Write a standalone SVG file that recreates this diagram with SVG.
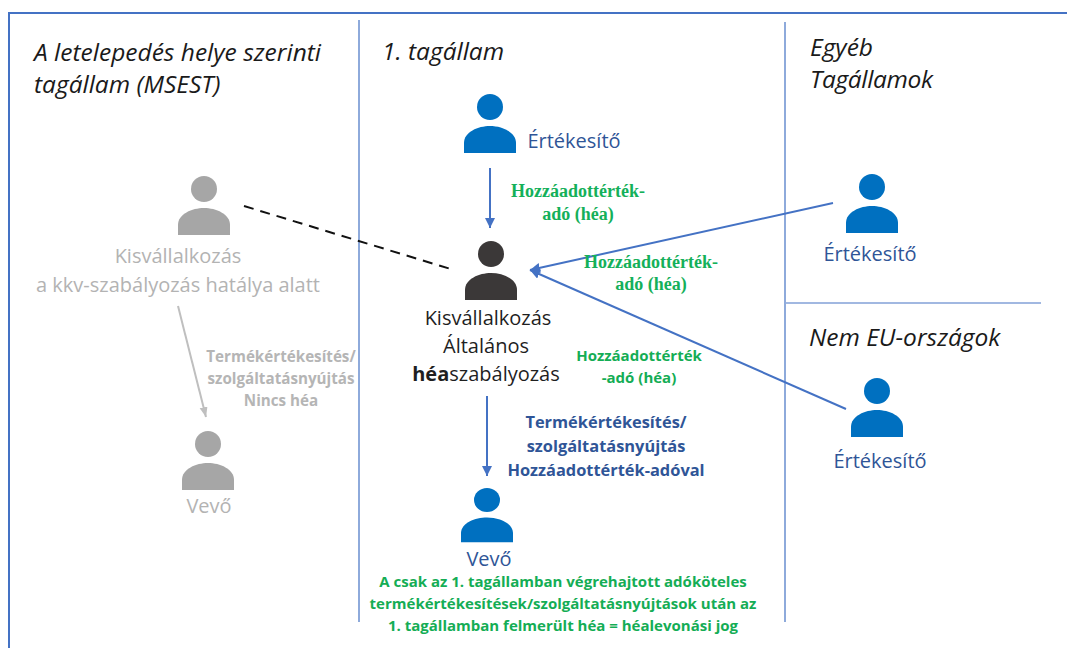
<svg xmlns="http://www.w3.org/2000/svg" width="1067" height="648" viewBox="0 0 1067 648">
<style>
text{font-family:"Open Sans","Noto Sans","Liberation Sans",sans-serif;text-anchor:middle}
.h{font-size:24.5px;font-style:italic;fill:#1a1a1a;text-anchor:start}
.l{font-size:20px}
.blue{fill:#2f5597}.grey{fill:#b3b3b3}.dark{fill:#1f1f1f}
.g{font-family:"Liberation Serif",serif;font-weight:bold;font-size:18px;fill:#14b05a}
.gs{font-size:15px;font-weight:bold;fill:#14ad55}
.bb{font-size:16.4px;font-weight:bold;fill:#2f5597}
.gb{font-size:15.2px;font-weight:bold;fill:#b5b5b5}
.frame{stroke:#4472c4;fill:none}
.c{stroke:#4472c4;stroke-width:2;fill:none;marker-end:url(#a)}
</style>
<defs>
<marker id="a" markerUnits="userSpaceOnUse" markerWidth="12" markerHeight="12" refX="10" refY="5" orient="auto"><path d="M0,0L10,5L0,10Z" fill="#4472c4"/></marker>
<marker id="ag" markerUnits="userSpaceOnUse" markerWidth="12" markerHeight="12" refX="10" refY="4" orient="auto"><path d="M0,0L10,4L0,8Z" fill="#bfbfbf"/></marker>
<g id="p"><circle r="13"/><path d="M-26,46V36C-26,25-12,19 0,19C12,19 26,25 26,36V46Z"/></g>
</defs>
<rect width="1067" height="648" fill="#fff"/>
<g id="frame">
<path class="frame" stroke-width="2" d="M9,648V13H1067"/>
<path class="frame" stroke-width="1.2" d="M359,20V622M785,22V622M786,303H1041"/>
</g>
<g id="connectors">
<path d="M244,206L454,270" stroke="#111" stroke-width="2" stroke-dasharray="10 7" fill="none"/>
<path class="c" d="M490,168V228"/>
<path class="c" d="M833,203L530,270"/>
<path class="c" d="M846,409L530,270"/>
<path class="c" d="M487,396V476"/>
<path d="M178,306L206,417" stroke="#bfbfbf" stroke-width="2" fill="none" marker-end="url(#ag)"/>
</g>
<g id="col-msest"><text class="h" x="34" y="61">A letelepedés helye szerinti</text><text class="h" x="34" y="93">tagállam (MSEST)</text></g>
<g id="col-1"><text class="h" x="382" y="60">1. tagállam</text></g>
<g id="col-other"><text class="h" x="810" y="56">Egyéb</text><text class="h" x="810" y="88" textLength="123">Tagállamok</text></g>
<g id="col-noneu"><text class="h" x="809" y="346">Nem EU-országok</text></g>
<g id="n-seller1"><use href="#p" x="490" y="107" fill="#0070c0"/><text class="l blue" x="574" y="148">Értékesítő</text></g>
<g id="n-small-grey"><use href="#p" x="204" y="189" fill="#a6a6a6"/><text class="l grey" x="178" y="263">Kisvállalkozás</text><text class="l grey" x="178" y="292">a kkv-szabályozás hatálya alatt</text></g>
<g id="n-small"><use href="#p" x="491" y="254" fill="#3b3838"/><text class="l dark" x="488" y="325">Kisvállalkozás</text><text class="l dark" x="486" y="353">Általános</text><text class="l dark" x="486" y="381"><tspan font-weight="bold">héa</tspan>szabályozás</text></g>
<g id="n-seller2"><use href="#p" x="872" y="187" fill="#0070c0"/><text class="l blue" x="870" y="261">Értékesítő</text></g>
<g id="n-seller3"><use href="#p" x="877" y="391" fill="#0070c0"/><text class="l blue" x="880" y="468">Értékesítő</text></g>
<g id="n-buyer-grey"><use href="#p" x="208" y="444" fill="#a6a6a6"/><text class="l grey" x="209" y="513">Vevő</text></g>
<g id="n-buyer"><use href="#p" transform="translate(487,500) scale(1,.92)" fill="#0070c0"/><text class="l blue" x="489" y="566">Vevő</text></g>
<g id="labels">
<text class="g" x="578" y="197">Hozzáadottérték-</text><text class="g" x="578" y="220">adó (héa)</text>
<text class="g" x="651" y="268">Hozzáadottérték-</text><text class="g" x="651" y="290">adó (héa)</text>
<text class="gs" x="639" y="361">Hozzáadottérték</text><text class="gs" x="639" y="383">-adó (héa)</text>
<text class="bb" x="606" y="428">Termékértékesítés/</text><text class="bb" x="606" y="452">szolgáltatásnyújtás</text><text class="bb" x="606" y="476">Hozzáadottérték-adóval</text>
<text class="gb" x="281" y="362">Termékértékesítés/</text><text class="gb" x="281" y="384">szolgáltatásnyújtás</text><text class="gb" x="281" y="406">Nincs héa</text>
<text class="gs" x="563" y="587">A csak az 1. tagállamban végrehajtott adóköteles</text><text class="gs" x="563" y="609">termékértékesítések/szolgáltatásnyújtások után az</text><text class="gs" x="563" y="631">1. tagállamban felmerült héa = héalevonási jog</text>
</g>
</svg>
